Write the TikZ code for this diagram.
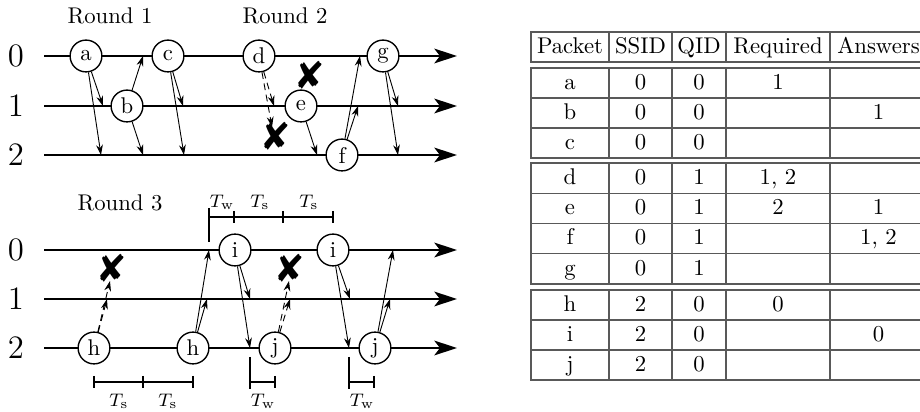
\documentclass[tikz,border=0pt]{standalone}
\usepackage{amsmath}
\usepackage{pifont}
\usepackage{tikz}
\usetikzlibrary{calc}
\usetikzlibrary{arrows.meta}

\tikzset{
  pkt/.style={circle,draw,line width=0.6pt,fill=white,minimum size=14pt,inner sep=0pt},
  timeline/.style={line width=0.8pt,-{Stealth[length=10pt,width=6.5pt,inset=2.5pt]}},
  msg/.style={line width=0.4pt,-{Stealth[length=4.5pt,width=3pt]}},
  lost/.style={msg,densely dashed},
  drop/.style={inner sep=0pt,font=\fontsize{17}{17}\selectfont},
  bar/.style={line width=0.6pt},
  tlabel/.style={font=\footnotesize,inner sep=0pt},
  row/.style={font=\Large},
  tabline/.style={draw=black!65,line width=0.6pt},
  cell/.style={text height=1.5ex,text depth=.25ex,inner sep=0pt}
}

\begin{document}
\begin{tikzpicture}[x=0.44pt,y=-0.44pt]
  % Constants
  \pgfmathsetmacro\xs{44}
  \pgfmathsetmacro\xe{457}
  % Boundary
  \useasboundingbox (0,0) rectangle (920,412);

  % Rounds 1 and 2
  \foreach \r/\y in {0/56,1/106,2/155}{
    \node[row] (up\r) at (16,\y) {\r};
    \draw[timeline] (\xs,\y) -- (\xe,\y);
  }
  \node (rnd1) at (110,16) {Round 1};
  \node (rnd2) at (285,16) {Round 2};
  \node[pkt] (a) at (86,56) {a};
  \node[pkt] (b) at (127,106) {b};
  \node[pkt] (c) at (168,56) {c};
  \node[pkt] (d) at (259,56) {d};
  \node[pkt] (e) at (301,106) {e};
  \node[pkt] (f) at (342,155) {f};
  \node[pkt] (g) at (383,56) {g};
  \foreach \n/\x/\y in {ta1/103/106, ta2/101/155, tb0/143/56, tb2/143/155,
    tc1/183/106, tc2/184/155, td1/274/106, tdx/272/127, te2/317/155,
    tf0/360/56, tf1/358/106, tg1/398/106, tg2/398/155}
    \coordinate (\n) at (\x,\y);
  \foreach \s/\t in {a/ta1, a/ta2, b/tb0, b/tb2, c/tc1, c/tc2, e/te2,
    f/tf0, f/tf1, g/tg1, g/tg2}
    \draw[msg] (\s) -- (\t);
  \draw[lost] (d) -- (td1);
  \draw[lost] (d) -- (tdx);
  \node[drop] (x1) at (276,136) {\ding{56}};
  \node[drop] (x2) at (310,75) {\ding{56}};

  % Round 3
  \foreach \r/\y in {0/250,1/299,2/348}{
    \node[row] (lo\r) at (16,\y) {\r};
    \draw[timeline] (\xs,\y) -- (\xe,\y);
  }
  \node (rnd3) at (120,203) {Round 3};
  \node[pkt] (h1) at (94,348) {h};
  \node[pkt] (h2) at (193,348) {h};
  \node[pkt] (i1) at (235,250) {i};
  \node[pkt] (i2) at (333,250) {i};
  \node[pkt] (j1) at (275,348) {j};
  \node[pkt] (j2) at (375,348) {j};
  \foreach \n/\x/\y in {th1a/107/299, th1x/110/281, th2a/207/299, th2b/209/250,
    ti1a/250/299, ti1b/250/348, tj1a/290/299, tj1x/289/281,
    ti2a/350/299, ti2b/349/348, tj2a/390/299, tj2b/393/250}
    \coordinate (\n) at (\x,\y);
  \foreach \s/\t in {h2/th2a, h2/th2b, i1/ti1a, i1/ti1b, i2/ti2a, i2/ti2b,
    j2/tj2a, j2/tj2b}
    \draw[msg] (\s) -- (\t);
  \foreach \s/\t in {h1/th1a, h1/th1x, j1/tj1a, j1/tj1x}
    \draw[lost] (\s) -- (\t);
  \node[drop] (x3) at (112,268) {\ding{56}};
  \node[drop] (x4) at (290,268) {\ding{56}};

  % Timing
  \draw[bar] (209,208) -- (209,242);
  \draw[bar] (209,217) -- (333,217);
  \foreach \x in {234,283,333} \draw[bar] (\x,211) -- (\x,223);
  \node[tlabel] (tw0) at (222,202) {$T_\mathrm{w}$};
  \node[tlabel] (ts0) at (260,202) {$T_\mathrm{s}$};
  \node[tlabel] (ts1) at (309,202) {$T_\mathrm{s}$};
  \draw[bar] (94,382) -- (193,382);
  \foreach \x in {94,143,193} \draw[bar] (\x,376) -- (\x,388);
  \node[tlabel] (ts2) at (119,401) {$T_\mathrm{s}$};
  \node[tlabel] (ts3) at (168,401) {$T_\mathrm{s}$};
  \foreach \x/\k in {250/1,349/2}{
    \draw[bar] (\x,357) -- (\x,389);
    \draw[bar] (\x,382) -- (\x+25,382);
    \draw[bar] (\x+25,376) -- (\x+25,388);
    \node[tlabel] (tw\k) at (\x+13,401) {$T_\mathrm{w}$};
  }

  % Table
  \foreach \t/\b in {32/62, 68/158, 163/284, 290/380}{
    \draw[tabline] (531,\t) rectangle (927,\b);
    \foreach \x in {609,672,726,830} \draw[tabline] (\x,\t) -- (\x,\b);
  }
  \foreach \y in {98,128,193.25,223.5,253.75,320,350}
    \draw[tabline] (531,\y) -- (927,\y);
  \node[cell] (hp) at (570,47) {Packet};
  \node[cell] (hs) at (640.5,47) {SSID};
  \node[cell] (hq) at (699,47) {QID};
  \node[cell] (hr) at (778,47) {Required};
  \node[cell] (ha) at (878.5,47) {Answers};
  \foreach \p/\y/\s/\q/\req/\ans in {a/83/0/0/1/{}, b/113/0/0/{}/1, c/143/0/0/{}/{},
    d/178/0/1/{1, 2}/{}, e/208.4/0/1/2/1, f/238.6/0/1/{}/{1, 2}, g/268.9/0/1/{}/{},
    h/305/2/0/0/{}, i/335/2/0/{}/0, j/365/2/0/{}/{}}{
    \node[cell] (cp-\p) at (570,\y) {\p};
    \node[cell] (cs-\p) at (640.5,\y) {\s};
    \node[cell] (cq-\p) at (699,\y) {\q};
    \node[cell] (cr-\p) at (778,\y) {\req};
    \node[cell] (ca-\p) at (878.5,\y) {\ans};
  }
\end{tikzpicture}
\end{document}
